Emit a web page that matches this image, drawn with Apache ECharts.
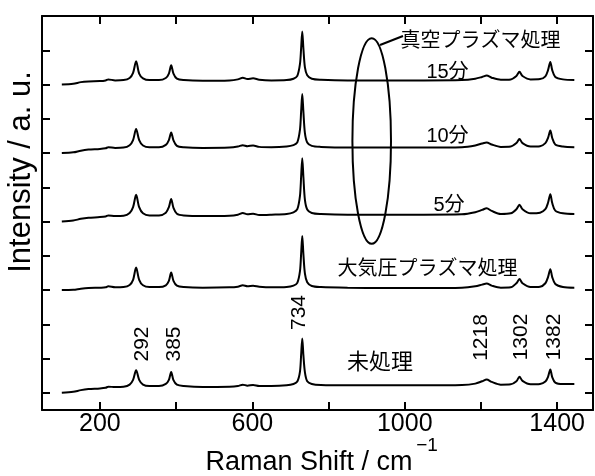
<!DOCTYPE html>
<html>
<head>
<meta charset="utf-8">
<script src="https://cdn.jsdelivr.net/npm/echarts@6/dist/echarts.min.js"></script>
<style>
html,body{margin:0;padding:0;background:#fff;}
#c{width:595px;height:476px;}
</style>
</head>
<body>
<div id="c"></div>
<script>
// Raman shift positions shared by all spectra (cm^-1)
const shifts = [100,130,150,170,200,215,222,240,262,278,287,295,303,313,330,355,373,381,387,393,402,420,470,540,562,575,587,602,618,650,690,708,718,725,728,731,734,738,744,756,780,850,950,1050,1150,1185,1203,1215,1228,1252,1278,1293,1301,1309,1330,1355,1369,1376,1382,1387,1395,1415,1445];

// intensities (a.u., relative to each trace's own baseline)
const untreated = [0,0.03,0.08,0.11,0.13,0.15,0.18,0.17,0.18,0.24,0.38,0.66,0.38,0.24,0.2,0.2,0.26,0.38,0.61,0.37,0.24,0.2,0.17,0.18,0.2,0.24,0.21,0.23,0.2,0.2,0.22,0.26,0.33,0.62,1.1,1.59,1.1,0.6,0.34,0.26,0.23,0.22,0.22,0.22,0.23,0.27,0.34,0.39,0.32,0.24,0.25,0.34,0.47,0.35,0.25,0.26,0.33,0.47,0.68,0.46,0.3,0.26,0.26];
const atmPlasma = [0,0.01,0.04,0.06,0.07,0.08,0.11,0.08,0.09,0.15,0.3,0.66,0.3,0.14,0.09,0.09,0.14,0.27,0.51,0.27,0.13,0.09,0.07,0.08,0.1,0.14,0.11,0.13,0.1,0.08,0.09,0.13,0.21,0.55,1.05,1.58,1.05,0.48,0.23,0.12,0.09,0.07,0.06,0.06,0.07,0.11,0.16,0.19,0.13,0.07,0.08,0.2,0.32,0.2,0.09,0.1,0.2,0.38,0.61,0.38,0.18,0.09,0.07];
const vac5 = [0,0.03,0.08,0.11,0.13,0.15,0.18,0.16,0.17,0.25,0.42,0.78,0.42,0.24,0.18,0.18,0.26,0.42,0.66,0.4,0.23,0.18,0.16,0.17,0.2,0.25,0.21,0.23,0.19,0.2,0.22,0.27,0.36,0.75,1.3,1.85,1.3,0.63,0.35,0.25,0.22,0.2,0.2,0.2,0.21,0.27,0.34,0.39,0.31,0.22,0.24,0.36,0.49,0.36,0.24,0.26,0.36,0.55,0.8,0.54,0.32,0.24,0.22];
const vac10 = [0,0.02,0.07,0.1,0.12,0.14,0.17,0.15,0.16,0.23,0.38,0.7,0.38,0.22,0.17,0.17,0.24,0.38,0.6,0.37,0.21,0.17,0.15,0.16,0.19,0.23,0.2,0.22,0.18,0.17,0.19,0.23,0.31,0.68,1.2,1.72,1.2,0.58,0.31,0.21,0.18,0.16,0.16,0.16,0.17,0.22,0.28,0.31,0.25,0.18,0.19,0.29,0.41,0.29,0.19,0.2,0.29,0.44,0.66,0.44,0.25,0.19,0.17];
const vac15 = [0,0.02,0.07,0.09,0.1,0.12,0.15,0.12,0.13,0.19,0.34,0.68,0.32,0.18,0.13,0.13,0.19,0.32,0.56,0.32,0.17,0.13,0.11,0.12,0.15,0.2,0.16,0.18,0.14,0.12,0.13,0.17,0.25,0.6,1.05,1.55,1.05,0.5,0.27,0.17,0.14,0.12,0.12,0.12,0.13,0.17,0.22,0.26,0.2,0.14,0.15,0.25,0.37,0.25,0.15,0.16,0.24,0.42,0.66,0.42,0.22,0.15,0.13];

// vertical stacking offsets (tick units)
const traces = [untreated, atmPlasma, vac5, vac10, vac15];
const offsets = [0, 3, 5, 7, 9];

// axis ticks / labels
const xTicks = [200,400,600,800,1000,1200,1400];
const xLabels = [200,600,1000,1400];
const yTicks = [0,1,2,3,4,5,6,7,8,9,10];

// annotation texts
const peakLabels = ['292','385','734','1218','1302','1382'];
const sampleLabels = ['未処理','大気圧プラズマ処理','5分','10分','15分','真空プラズマ処理'];

const LAT = '"Liberation Sans", Arial, sans-serif';
const MIX = '"Liberation Sans", "Noto Sans CJK JP", sans-serif';

const chart = echarts.init(document.getElementById('c'), null, {renderer:'canvas'});

const axisCommon = {
  type:'value', min:48, max:1494,
  axisLine:{show:true, onZero:false, lineStyle:{color:'#000', width:2}},
  axisTick:{show:true, inside:true, length:8, customValues:xTicks, lineStyle:{color:'#000', width:2}},
  splitLine:{show:false}
};
const yCommon = {
  type:'value', min:-0.5, max:11,
  axisLine:{show:true, onZero:false, lineStyle:{color:'#000', width:2}},
  axisTick:{show:true, inside:true, length:8, customValues:yTicks, lineStyle:{color:'#000', width:2}},
  axisLabel:{show:false},
  splitLine:{show:false}
};

const series = traces.map((vals, k) => ({
  type:'line',
  data: shifts.map((x, i) => [x, vals[i] + offsets[k]]),
  showSymbol:false,
  smooth:0.3,
  lineStyle:{color:'#000', width:2},
  silent:true,
  animation:false
}));

function txt(x, y, text, size, rot, family){
  return {type:'text', x:x, y:y, rotation: rot||0, silent:true,
    style:{text:text, font: size + 'px ' + (family||MIX), fill:'#000', align:'center', verticalAlign:'middle'}};
}

const peakPos = [[142.5,344],[174,344],[299,312.5],[481,337.5],[521,337],[554,337]];
const graphics = [];
peakLabels.forEach((t, i) => graphics.push(txt(peakPos[i][0], peakPos[i][1], t, 21, Math.PI/2, LAT)));
graphics.push(txt(380, 363, sampleLabels[0], 22));
graphics.push(txt(427.5, 269.5, sampleLabels[1], 20));
graphics.push(txt(449, 205, sampleLabels[2], 20));
graphics.push(txt(447.5, 136, sampleLabels[3], 20));
graphics.push(txt(447.5, 72, sampleLabels[4], 20));
graphics.push(txt(480.5, 41, sampleLabels[5], 20));
graphics.push({type:'ellipse', shape:{cx:371.7, cy:141, rx:19.3, ry:102.8}, silent:true,
  style:{fill:'none', stroke:'#000', lineWidth:2}});
graphics.push({type:'line', shape:{x1:380, y1:45, x2:403, y2:36}, silent:true,
  style:{stroke:'#000', lineWidth:2}});
// axis titles
graphics.push(txt(309, 463, 'Raman Shift / cm', 27, 0, LAT));
graphics.push(txt(427, 446, '\u22121', 19, 0, LAT));
graphics.push(txt(21, 172, 'Intensity / a. u.', 31, Math.PI/2, LAT));

chart.setOption({
  animation:false,
  backgroundColor:'#fff',
  grid:{left:42, right:2, top:16, bottom:66, containLabel:false},
  xAxis:[
    Object.assign({}, axisCommon, {position:'bottom',
      axisLabel:{show:true, customValues:xLabels, margin:2, color:'#000', fontSize:25, fontFamily:LAT,
        formatter: v => String(v)}}),
    Object.assign({}, axisCommon, {position:'top', axisLabel:{show:false}})
  ],
  yAxis:[
    Object.assign({}, yCommon, {position:'left'}),
    Object.assign({}, yCommon, {position:'right'})
  ],
  series: series,
  graphic: graphics
});
</script>
</body>
</html>
